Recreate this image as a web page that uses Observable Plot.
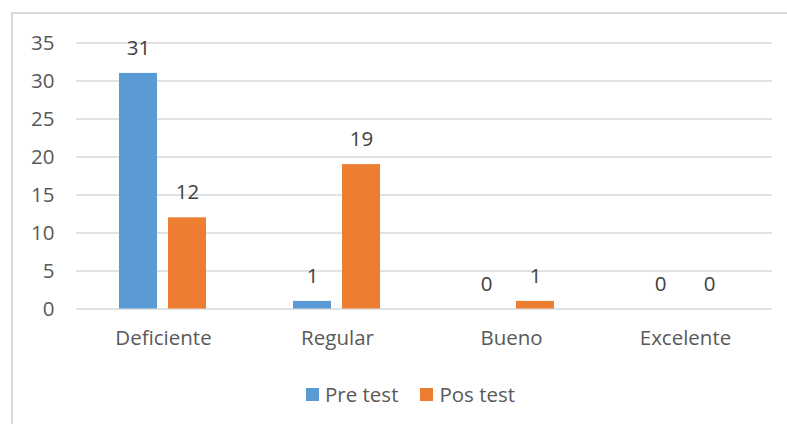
<!DOCTYPE html>
<html>
<head>
<meta charset="utf-8">
<script src="https://cdn.jsdelivr.net/npm/d3@7"></script>
<script src="https://cdn.jsdelivr.net/npm/@observablehq/plot@0.6"></script>
<style>
  html, body { margin: 0; padding: 0; background: #fff; overflow: hidden; }
  body { width: 787px; height: 424px; position: relative; font-family: "Open Sans", sans-serif; }
  #frame { position: absolute; left: 11px; top: 12px; width: 820px; height: 440px; border: 2px solid #d9d9d9; box-sizing: border-box; }
  #chart { position: absolute; left: 0; top: 0; }
  #legend { position: absolute; left: 306px; top: 380px; display: flex; align-items: center; font-size: 20.5px; color: #595959; }
  .item { display: flex; align-items: center; margin-right: 22px; }
  .sw { width: 13px; height: 13px; margin-right: 6px; }
</style>
</head>
<body>
<div id="frame"></div>
<div id="chart"></div>
<div id="legend"></div>
<script>
const categories = ["Deficiente", "Regular", "Bueno", "Excelente"];
const series = ["Pre test", "Pos test"];
const preTest = [31, 1, 0, 0];
const posTest = [12, 19, 1, 0];
const colors = ["#5B9BD5", "#ED7D31"];
const yTicks = [0, 5, 10, 15, 20, 25, 30, 35];

const data = [];
categories.forEach((c, i) => {
  data.push({category: c, series: series[0], value: preTest[i]});
  data.push({category: c, series: series[1], value: posTest[i]});
});

const chart = Plot.plot({
  width: 787,
  height: 370,
  marginLeft: 75,
  marginRight: 15,
  marginTop: 42.5,
  marginBottom: 61.5,
  style: {fontFamily: "'Open Sans', sans-serif", fontSize: "20.5px", color: "#595959", background: "transparent"},
  fx: {domain: categories, padding: 0, tickSize: 0, tickPadding: 21, label: null},
  x: {domain: series, axis: null, paddingInner: 0.22, paddingOuter: 0.87},
  y: {domain: [0, 35], ticks: yTicks, tickSize: 0, tickPadding: 22, label: null},
  color: {domain: series, range: colors},
  marks: [
    Plot.gridY(yTicks, {stroke: "#d9d9d9", strokeOpacity: 1, strokeWidth: 1.5}),
    Plot.barY(data, {fx: "category", x: "series", y: "value", fill: "series"}),
    Plot.text(data, {fx: "category", x: "series", y: "value", text: d => String(d.value), dy: -25, fill: "#404040", fontSize: 20.5})
  ]
});
document.getElementById("chart").appendChild(chart);

const legend = document.getElementById("legend");
series.forEach((s, i) => {
  const item = document.createElement("div");
  item.className = "item";
  const sw = document.createElement("div");
  sw.className = "sw";
  sw.style.background = colors[i];
  const t = document.createElement("span");
  t.textContent = s;
  item.appendChild(sw);
  item.appendChild(t);
  legend.appendChild(item);
});
</script>
</body>
</html>
